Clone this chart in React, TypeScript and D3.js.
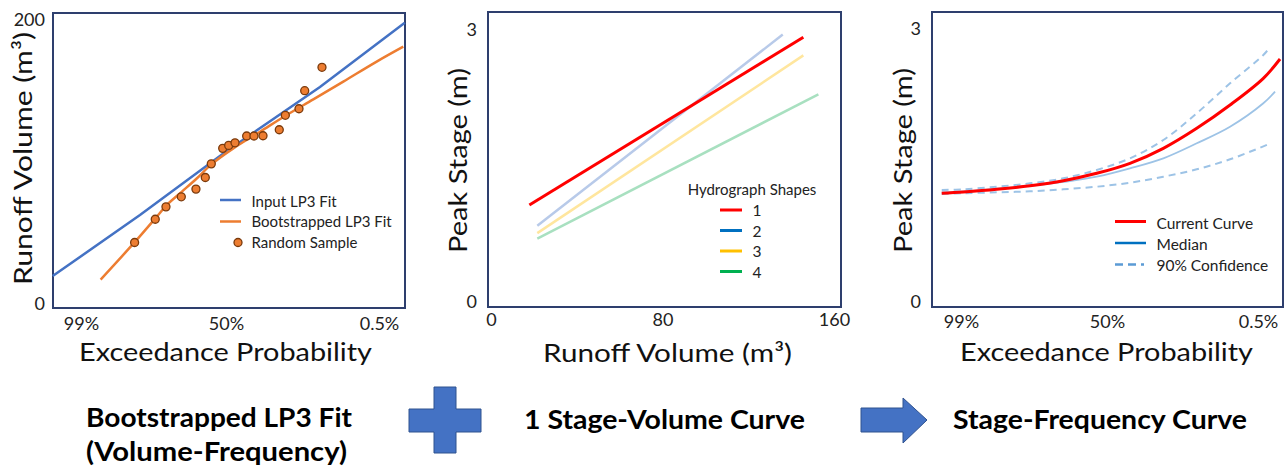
import React, { useEffect, useRef } from "react";
import * as d3 from "d3";

const W = 1287;
const H = 470;
const FONT = "Lato, 'Open Sans', sans-serif";
const FRAME = "#2e3f6e";
const INK = "#111";

// probability axis: labels and their standard normal variates
const probLabels = ["99%", "50%", "0.5%"];
const probZ = [-2.326, 0, 2.576];

// panel 1: volume-frequency
const inputFitZ = [-2.78, -1.38, 0, 1.582, 3.01];
const inputFitV = [19.7, 62.6, 107.4, 152.8, 198.1];
const bootZ = [-2.011, -1.461, -1.112, -0.952, -0.711, -0.47, -0.23, 0.123, 0.572, 1.022, 1.47, 1.975, 2.537, 2.985];
const bootV = [17.2, 43.7, 61.4, 69.6, 79.0, 88.4, 98.5, 109.6, 121.3, 133.1, 144.1, 156.6, 170.7, 181.2];
const sampleZ = [-1.466, -1.135, -0.963, -0.717, -0.482, -0.332, -0.236, -0.053, 0.045, 0.152, 0.348, 0.471, 0.623, 0.897, 0.999, 1.229, 1.325, 1.616];
const sampleV = [43.3, 59.7, 68.4, 75.5, 80.9, 89.1, 98.7, 109.6, 111.7, 113.5, 118.3, 118.3, 118.5, 122.7, 132.9, 137.5, 150.2, 166.7];
const volTicks = [0, 200];

// panel 2: stage-volume
const shapeNames = ["1", "2", "3", "4"];
const shapeVol = [[17.9, 145.7], [21.6, 136.1], [21.6, 145.7], [21.6, 152.7]];
const shapeStage = [[1.07, 2.92], [0.84, 2.95], [0.76, 2.72], [0.70, 2.29]];
const runoffTicks = [0, 80, 160];
const stageTicks = [0, 3];

// panel 3: stage-frequency
const sfZ = [-2.633, -2.289, -1.757, -1.227, -0.696, -0.164, 0.392, 0.961, 1.531, 2.099, 2.667, 2.952];
const currentStage = [1.195, 1.209, 1.238, 1.278, 1.333, 1.414, 1.524, 1.689, 1.909, 2.165, 2.458, 2.67];
const medianZ = [-2.633, -2.289, -1.757, -1.227, -0.696, -0.164, 0.392, 0.961, 1.531, 2.099, 2.667, 2.867];
const medianStage = [1.205, 1.216, 1.245, 1.275, 1.319, 1.377, 1.469, 1.579, 1.744, 1.926, 2.184, 2.311];
const upperZ = [-2.633, -2.289, -1.757, -1.227, -0.696, -0.164, 0.392, 0.961, 1.531, 2.099, 2.667, 2.753];
const upperStage = [1.231, 1.238, 1.267, 1.304, 1.359, 1.451, 1.579, 1.78, 2.074, 2.403, 2.714, 2.777];
const lowerZ = [-2.633, -2.289, -1.757, -1.227, -0.696, -0.164, 0.392, 0.961, 1.531, 2.099, 2.753];
const lowerStage = [1.187, 1.195, 1.205, 1.216, 1.238, 1.267, 1.311, 1.377, 1.458, 1.568, 1.733];

const captions = ["Bootstrapped LP3 Fit", "(Volume-Frequency)", "1 Stage-Volume Curve", "Stage-Frequency Curve"];

// styles
const shapeLegendColors = ["#ff0000", "#0070c0", "#ffc000", "#00b050"];
const shapeLineColors = ["#ff0000", "#b8cae9", "#ffe69e", "#a8e0c0"];

type Sel = d3.Selection<SVGSVGElement, unknown, null, undefined>;
type Frame = { x0: number; x1: number; y0: number; y1: number };

const zip = (a: number[], b: number[]) => a.map((v, i) => [v, b[i]] as [number, number]);

function frame(svg: Sel, f: Frame) {
  svg.append("rect")
    .attr("x", f.x0).attr("y", f.y0)
    .attr("width", f.x1 - f.x0).attr("height", f.y1 - f.y0)
    .attr("fill", "none").attr("stroke", FRAME).attr("stroke-width", 2);
}

function title(svg: Sel, text: string, x: number, y: number, len: number, rotate = false) {
  const t = svg.append("text")
    .attr("font-family", FONT).attr("font-size", 25).attr("fill", INK)
    .attr("text-anchor", "middle")
    .attr("textLength", len).attr("lengthAdjust", "spacingAndGlyphs")
    .text(text);
  if (rotate) t.attr("transform", `translate(${x},${y}) rotate(-90)`);
  else t.attr("x", x).attr("y", y);
}

function bottomAxis(svg: Sel, scale: any, values: number[], labels: string[], y: number, pad: number) {
  svg.append("g")
    .attr("transform", `translate(0,${y})`)
    .call(d3.axisBottom(scale).tickValues(values).tickFormat((d: any, i: number) => labels[i]).tickSize(0).tickPadding(pad) as any)
    .call(g => g.select(".domain").remove())
    .call(g => g.selectAll("text").attr("font-family", FONT).attr("font-size", 18).attr("fill", "#222"));
}

function leftAxis(svg: Sel, scale: any, values: number[], x: number, pad: number) {
  svg.append("g")
    .attr("transform", `translate(${x},0)`)
    .call(d3.axisLeft(scale).tickValues(values).tickFormat(d3.format("d")).tickSize(0).tickPadding(pad) as any)
    .call(g => g.select(".domain").remove())
    .call(g => g.selectAll("text").attr("font-family", FONT).attr("font-size", 18).attr("fill", "#222"));
}

function legendText(svg: Sel, text: string, x: number, y: number, size = 15, anchor = "start") {
  svg.append("text")
    .attr("x", x).attr("y", y).attr("dy", "0.35em")
    .attr("font-family", FONT).attr("font-size", size).attr("fill", "#222")
    .attr("text-anchor", anchor)
    .text(text);
}

function legendLine(svg: Sel, x0: number, x1: number, y: number, color: string, width: number, dash?: string) {
  svg.append("line")
    .attr("x1", x0).attr("x2", x1).attr("y1", y).attr("y2", y)
    .attr("stroke", color).attr("stroke-width", width)
    .attr("stroke-dasharray", dash ?? null);
}

function drawVolumeFrequency(svg: Sel) {
  const f: Frame = { x0: 53, x1: 405, y0: 13, y1: 308 };
  const x = d3.scaleLinear().domain(probZ).range([f.x0 + 28, f.x0 + 173, f.x0 + 326]);
  const y = d3.scaleLinear().domain([0, 200]).range([f.y1 - 4, f.y0 + 7]);
  const line = d3.line<[number, number]>().x(d => x(d[0])).y(d => y(d[1]));

  frame(svg, f);
  svg.append("path").attr("d", line(zip(inputFitZ, inputFitV)))
    .attr("fill", "none").attr("stroke", "#4472c4").attr("stroke-width", 2.5);
  svg.append("path").attr("d", line.curve(d3.curveCatmullRom.alpha(0.5))(zip(bootZ, bootV)))
    .attr("fill", "none").attr("stroke", "#ed7d31").attr("stroke-width", 2.5);
  svg.append("g").selectAll("circle")
    .data(zip(sampleZ, sampleV))
    .join("circle")
    .attr("cx", d => x(d[0])).attr("cy", d => y(d[1])).attr("r", 4)
    .attr("fill", "#ed7d31").attr("stroke", "#7a3a0c").attr("stroke-width", 1.3);

  // legend
  legendLine(svg, 220, 241, 200, "#4472c4", 2.5);
  legendLine(svg, 220, 241, 221.5, "#ed7d31", 2.5);
  svg.append("circle").attr("cx", 238).attr("cy", 242.5).attr("r", 4)
    .attr("fill", "#ed7d31").attr("stroke", "#7a3a0c").attr("stroke-width", 1.3);
  legendText(svg, "Input LP3 Fit", 251.5, 201.5);
  legendText(svg, "Bootstrapped LP3 Fit", 251.5, 222);
  legendText(svg, "Random Sample", 251.5, 242.5);

  bottomAxis(svg, x, probZ, probLabels, f.y1, 9);
  leftAxis(svg, y, volTicks, f.x0, 8);
  title(svg, "Exceedance Probability", 225.5, 361, 293);
  title(svg, "Runoff Volume (m³)", 32, 158.5, 253, true);
}

function drawStageVolume(svg: Sel) {
  const f: Frame = { x0: 488, x1: 841, y0: 12, y1: 307 };
  const x = d3.scaleLinear().domain([0, 160]).range([f.x0 + 3, f.x0 + 346]);
  const y = d3.scaleLinear().domain([0, 3]).range([f.y1 - 5, f.y0 + 18]);
  const line = d3.line<[number, number]>().x(d => x(d[0])).y(d => y(d[1]));

  frame(svg, f);
  // faded shapes first, shape 1 on top
  [3, 2, 1, 0].forEach(i => {
    svg.append("path").attr("d", line(zip(shapeVol[i], shapeStage[i])))
      .attr("fill", "none").attr("stroke", shapeLineColors[i])
      .attr("stroke-width", i === 0 ? 3 : 2.5);
  });

  legendText(svg, "Hydrograph Shapes", 752, 190, 15, "middle");
  shapeNames.forEach((name, i) => {
    const ly = 210 + i * 20.5;
    legendLine(svg, 720, 742, ly, shapeLegendColors[i], 3);
    legendText(svg, name, 757, ly + 1, 15.5, "middle");
  });

  bottomAxis(svg, x, runoffTicks, runoffTicks.map(String), f.y1, 6);
  leftAxis(svg, y, stageTicks, f.x0, 11);
  title(svg, "Runoff Volume (m³)", 667.5, 362, 249);
  title(svg, "Peak Stage (m)", 467, 160.5, 185, true);
}

function drawStageFrequency(svg: Sel) {
  const f: Frame = { x0: 932, x1: 1283, y0: 12, y1: 307 };
  const x = d3.scaleLinear().domain(probZ).range([f.x0 + 29, f.x0 + 175, f.x0 + 326]);
  const y = d3.scaleLinear().domain([0, 3]).range([f.y1 - 5, f.y0 + 17]);
  const line = d3.line<[number, number]>().x(d => x(d[0])).y(d => y(d[1])).curve(d3.curveCatmullRom.alpha(0.5));

  frame(svg, f);
  const ci = "#9dc3e6";
  svg.append("path").attr("d", line(zip(lowerZ, lowerStage)))
    .attr("fill", "none").attr("stroke", ci).attr("stroke-width", 2).attr("stroke-dasharray", "7,5");
  svg.append("path").attr("d", line(zip(upperZ, upperStage)))
    .attr("fill", "none").attr("stroke", ci).attr("stroke-width", 2).attr("stroke-dasharray", "7,5");
  svg.append("path").attr("d", line(zip(medianZ, medianStage)))
    .attr("fill", "none").attr("stroke", ci).attr("stroke-width", 1.8);
  svg.append("path").attr("d", line(zip(sfZ, currentStage)))
    .attr("fill", "none").attr("stroke", "#ff0000").attr("stroke-width", 3);

  legendLine(svg, 1115, 1146, 221.5, "#ff0000", 3);
  legendLine(svg, 1115, 1146, 243, "#0070c0", 2.5);
  legendLine(svg, 1115, 1144, 264.5, "#5b9bd5", 2.5, "8,5");
  legendText(svg, "Current Curve", 1156.5, 224, 15.5);
  legendText(svg, "Median", 1156.5, 245, 15.5);
  legendText(svg, "90% Confidence", 1156.5, 265.5, 15.5);

  bottomAxis(svg, x, probZ, probLabels, f.y1, 8);
  leftAxis(svg, y, stageTicks, f.x0, 11);
  title(svg, "Exceedance Probability", 1106.5, 361, 293);
  title(svg, "Peak Stage (m)", 912, 160.5, 185, true);
}

function drawCaptions(svg: Sel) {
  const cap = (text: string, cx: number, base: number, len: number) =>
    svg.append("text")
      .attr("x", cx).attr("y", base)
      .attr("font-family", FONT).attr("font-weight", "bold").attr("font-size", 27)
      .attr("fill", "#000").attr("text-anchor", "middle")
      .attr("textLength", len).attr("lengthAdjust", "spacingAndGlyphs")
      .text(text);

  cap(captions[0], 219, 427, 266);
  cap(captions[1], 216.5, 461, 261);
  cap(captions[2], 664.5, 429, 281);
  cap(captions[3], 1100, 429, 294);

  // plus sign
  svg.append("path")
    .attr("d", "M434,387H456V409H481V432H456V453H434V432H409V409H434Z")
    .attr("fill", "#4472c4").attr("stroke", "#2f528f").attr("stroke-width", 1);
  // arrow
  svg.append("path")
    .attr("d", "M861,408H903V398L927,420L903,443V432H861Z")
    .attr("fill", "#4472c4").attr("stroke", "#2f528f").attr("stroke-width", 1);
}

export default function App() {
  const ref = useRef<SVGSVGElement>(null);
  useEffect(() => {
    const svg = d3.select(ref.current as SVGSVGElement) as Sel;
    svg.selectAll("*").remove();
    drawVolumeFrequency(svg);
    drawStageVolume(svg);
    drawStageFrequency(svg);
    drawCaptions(svg);
  }, []);
  return (
    <svg
      ref={ref}
      width={W}
      height={H}
      viewBox={`0 0 ${W} ${H}`}
      style={{ position: "absolute", left: 0, top: 0, background: "#fff" }}
    />
  );
}
